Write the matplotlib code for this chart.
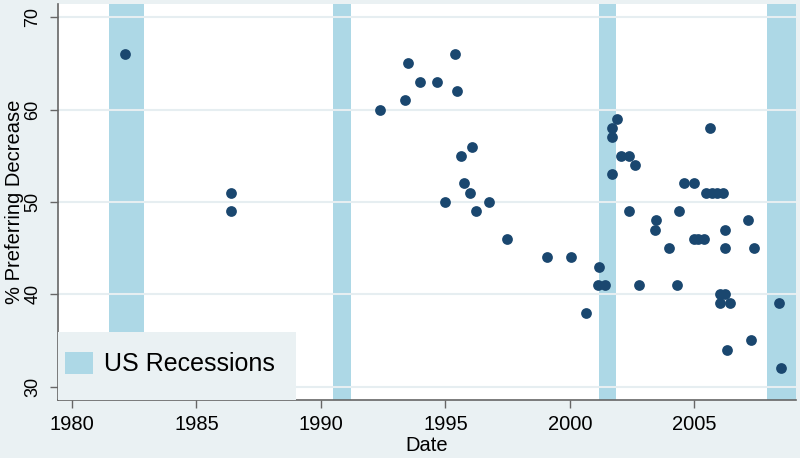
import matplotlib
matplotlib.use("Agg")
import matplotlib.pyplot as plt
from matplotlib.patches import Rectangle, Patch

plt.rcParams['font.family'] = ['Liberation Sans', 'DejaVu Sans']

# ---- data ----
survey_date = [1982.13, 1986.39, 1986.39, 1992.37, 1993.38, 1993.49, 1993.98, 1994.65,
               1995.39, 1995.46, 1995.63, 1996.07, 1995.74, 1995.99, 1994.97, 1996.23,
               1996.73, 1997.46, 1999.06, 2000.05, 2001.15, 2001.11, 2001.42, 2000.65,
               2001.88, 2001.71, 2001.71, 2001.67, 2002.06, 2002.39, 2002.63, 2002.38,
               2003.47, 2003.41, 2003.96, 2002.79, 2004.32, 2004.39, 2004.58, 2005.00,
               2004.97, 2005.16, 2005.38, 2005.63, 2005.47, 2005.71, 2005.89, 2006.13,
               2006.23, 2006.23, 2007.14, 2007.40, 2006.03, 2006.21, 2006.03, 2006.41,
               2006.30, 2007.28, 2008.38, 2008.48]
pct_decrease = [66, 51, 49, 60, 61, 65, 63, 63,
                66, 62, 55, 56, 52, 51, 50, 49,
                50, 46, 44, 44, 43, 41, 41, 38,
                59, 58, 57, 53, 55, 55, 54, 49,
                48, 47, 45, 41, 41, 49, 52, 52,
                46, 46, 46, 58, 51, 51, 51, 51,
                47, 45, 48, 45, 40, 40, 39, 39,
                34, 35, 39, 32]
rec_start = [1981.5, 1990.5, 2001.15, 2007.9]
rec_end = [1982.9, 1991.2, 2001.85, 2009.5]
x_ticks = [1980, 1985, 1990, 1995, 2000, 2005]
y_ticks = [30, 40, 50, 60, 70]

# ---- styles ----
bg = '#eaf1f3'
grid_c = '#e6eef1'
dot_c = '#1a476f'
rec_c = '#add8e6'

fig = plt.figure(figsize=(8, 4.58), dpi=100, facecolor=bg)
ax = fig.add_axes([0.0725, 0.1266, 0.9225, 0.8647])
ax.set_facecolor('white')

for s, e in zip(rec_start, rec_end):
    ax.axvspan(s, e, color=rec_c, lw=0, zorder=0.2)

ax.set_axisbelow(True)
ax.grid(axis='y', color=grid_c, lw=1.5)
ax.grid(axis='x', visible=False)

ax.scatter(survey_date, pct_decrease, s=60, color=dot_c, linewidths=0, zorder=3)

ax.set_xlim(1979.44, 2009.08)
ax.set_ylim(28.54, 71.44)
ax.set_xticks(x_ticks)
ax.set_yticks(y_ticks)
ax.set_xticklabels([str(t) for t in x_ticks], fontsize=14.5)
ax.set_yticklabels([str(t) for t in y_ticks], fontsize=13, rotation=90, va='center')
ax.tick_params(axis='x', length=6, width=1, color='#666666', pad=5)
ax.tick_params(axis='y', length=6, width=1, color='#666666', pad=6)

for side in ['top', 'right']:
    ax.spines[side].set_visible(False)
for side in ['left', 'bottom']:
    ax.spines[side].set_color('#666666')
    ax.spines[side].set_linewidth(1.2)

ax.set_xlabel('Date', fontsize=14.5, labelpad=1)
ax.set_ylabel('% Preferring Decrease', fontsize=14.5, labelpad=0)

# legend background box
ax.add_patch(Rectangle((0, 0), 0.3225, 0.1717, transform=ax.transAxes,
                       facecolor=bg, edgecolor='none', zorder=4, clip_on=False))
leg = ax.legend(handles=[Patch(facecolor=rec_c, edgecolor='none', label='US Recessions')],
                loc='center left', bbox_to_anchor=(0.0095, 0.0909), frameon=False,
                borderpad=0, borderaxespad=0, fontsize=18, handlelength=1.11,
                handleheight=1.0, handletextpad=0.45)
leg.set_zorder(5)

fig.savefig('out.png', dpi=100, facecolor=bg)
